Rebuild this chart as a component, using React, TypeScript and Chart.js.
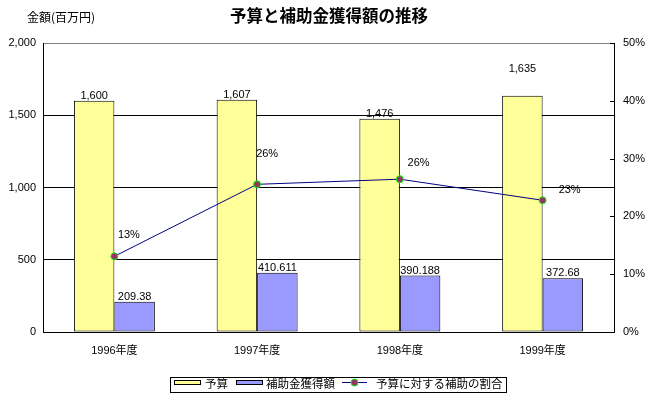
import React, { useEffect, useRef } from "react";
import { Chart, registerables } from "chart.js";

Chart.register(...registerables);

const categories = ["1996年度", "1997年度", "1998年度", "1999年度"];
const budget = [1600, 1607, 1476, 1635];
const subsidy = [209.38, 410.611, 390.188, 372.68];
const ratio = [0.1309, 0.2555, 0.2644, 0.2279];

const leftTicks = [0, 500, 1000, 1500, 2000];
const rightTicks = [0, 0.1, 0.2, 0.3, 0.4, 0.5];

const TITLE = "予算と補助金獲得額の推移";
const UNIT = "金額(百万円)";
const LEGEND = ["予算", "補助金獲得額", "予算に対する補助の割合"];

const FONT = '"Liberation Sans", "Noto Sans CJK JP", sans-serif';
const JFONT = '"Noto Sans CJK JP", sans-serif';

// label placement tweaks (style only)
const BUDGET_LABEL_SHIFT = [0, 0, 0, -22];
const PCT_LABEL_OFFSETS = [
  [3.5, -21],
  [-1, -30],
  [7.7, -16],
  [16, -10],
];

const fmt = (v: number) => v.toLocaleString("en-US");

const decorPlugin = {
  id: "decor",
  afterDatasetsDraw(chart: any) {
    const ctx = chart.ctx;
    const area = chart.chartArea;
    ctx.save();
    // inside ticks on right axis
    const y1 = chart.scales.y1;
    ctx.strokeStyle = "#000";
    ctx.lineWidth = 1;
    rightTicks.forEach((t) => {
      const py = Math.round(y1.getPixelForValue(t)) + 0.5;
      ctx.beginPath();
      ctx.moveTo(area.right - 4, py);
      ctx.lineTo(area.right, py);
      ctx.stroke();
    });

    // bar labels
    ctx.fillStyle = "#000";
    ctx.font = `11px ${FONT}`;
    ctx.textAlign = "center";
    ctx.textBaseline = "alphabetic";
    const m0 = chart.getDatasetMeta(0);
    const m1 = chart.getDatasetMeta(1);
    const m2 = chart.getDatasetMeta(2);
    m0.data.forEach((el: any, i: number) => {
      ctx.fillText(fmt(budget[i]), el.x, el.y - 2 + BUDGET_LABEL_SHIFT[i]);
    });
    m1.data.forEach((el: any, i: number) => {
      ctx.fillText(String(subsidy[i]), el.x, el.y - 2);
    });
    ctx.textAlign = "left";
    ctx.textBaseline = "middle";
    m2.data.forEach((el: any, i: number) => {
      const [dx, dy] = PCT_LABEL_OFFSETS[i];
      ctx.fillText(Math.round(ratio[i] * 100) + "%", el.x + dx, el.y + dy);
    });

    // title & unit
    ctx.textAlign = "center";
    ctx.font = `bold 16.5px ${JFONT}`;
    ctx.fillText(TITLE, 329, 16);
    ctx.textAlign = "left";
    ctx.font = `12px ${JFONT}`;
    ctx.fillText(UNIT, 27, 17);

    // legend
    ctx.strokeStyle = "#000";
    ctx.strokeRect(170.5, 377.5, 336, 15);
    const cy = 385;
    ctx.fillStyle = "#FFFF99";
    ctx.fillRect(174.5, 380.5, 26, 4);
    ctx.strokeRect(174.5, 380.5, 26, 4);
    ctx.fillStyle = "#9999FF";
    ctx.fillRect(236.5, 380.5, 26, 4);
    ctx.strokeRect(236.5, 380.5, 26, 4);
    ctx.strokeStyle = "#000080";
    ctx.beginPath();
    ctx.moveTo(342, 382.5);
    ctx.lineTo(367, 382.5);
    ctx.stroke();
    ctx.beginPath();
    ctx.arc(354.5, 382.5, 3.5, 0, Math.PI * 2);
    ctx.fillStyle = "#993366";
    ctx.fill();
    ctx.strokeStyle = "#00FF00";
    ctx.stroke();
    ctx.fillStyle = "#000";
    ctx.font = `11.5px ${JFONT}`;
    ctx.textBaseline = "middle";
    ctx.fillText(LEGEND[0], 205, cy - 1);
    ctx.fillText(LEGEND[1], 266, cy - 1);
    ctx.fillText(LEGEND[2], 376, cy - 1);
    ctx.restore();
  },
};

export default function App() {
  const ref = useRef<HTMLCanvasElement>(null);
  useEffect(() => {
    if (!ref.current) return;
    const chart = new Chart(ref.current, {
      type: "bar",
      data: {
        labels: categories,
        datasets: [
          {
            type: "bar",
            label: LEGEND[0],
            data: budget,
            backgroundColor: "#FFFF99",
            borderColor: "#000",
            borderWidth: 1,
            borderSkipped: false,
            yAxisID: "y",
            order: 1,
          },
          {
            type: "bar",
            label: LEGEND[1],
            data: subsidy,
            backgroundColor: "#9999FF",
            borderColor: "#000",
            borderWidth: 1,
            borderSkipped: false,
            yAxisID: "y",
            order: 2,
          },
          {
            type: "line",
            label: LEGEND[2],
            data: ratio,
            borderColor: "#000080",
            borderWidth: 1,
            pointBackgroundColor: "#993366",
            pointBorderColor: "#00FF00",
            pointBorderWidth: 1,
            pointRadius: 3.5,
            yAxisID: "y1",
            order: 0,
          } as any,
        ],
      },
      options: {
        responsive: false,
        animation: false,
        devicePixelRatio: 1,
        categoryPercentage: 0.567,
        barPercentage: 1,
        layout: { padding: { left: 0, right: 0, top: 43, bottom: 0 } },
        plugins: {
          legend: { display: false },
          title: { display: false },
          tooltip: { enabled: false },
        },
        scales: {
          x: {
            grid: { display: false, drawTicks: false },
            border: { display: true, color: "#000" },
            ticks: { color: "#000", font: { size: 11, family: FONT }, padding: 12 },
            afterFit(s: any) {
              s.height = 65;
            },
          },
          y: {
            position: "left",
            min: 0,
            max: 2000,
            afterBuildTicks(s: any) {
              s.ticks = leftTicks.map((v) => ({ value: v }));
            },
            grid: {
              drawTicks: false,
              color: (c: any) => (c.tick && c.tick.value === 2000 ? "#808080" : "#000"),
              lineWidth: 1,
            },
            border: { color: "#000" },
            ticks: {
              color: "#000",
              font: { size: 11, family: FONT },
              padding: 7,
              callback: (v: any) => fmt(Number(v)),
            },
            afterFit(s: any) {
              s.width = 43;
            },
          },
          y1: {
            position: "right",
            min: 0,
            max: 0.5,
            afterBuildTicks(s: any) {
              s.ticks = rightTicks.map((v) => ({ value: v }));
            },
            grid: { drawOnChartArea: false, drawTicks: false },
            border: { color: "#000" },
            ticks: {
              color: "#000",
              font: { size: 11, family: FONT },
              padding: 9,
              callback: (v: any) => Math.round(Number(v) * 100) + "%",
            },
            afterFit(s: any) {
              s.width = 35;
            },
          },
        },
      } as any,
      plugins: [decorPlugin],
    });
    return () => chart.destroy();
  }, []);
  return (
    <canvas
      ref={ref}
      width={649}
      height={397}
      style={{ position: "fixed", left: 0, top: 0, display: "block" }}
    />
  );
}
